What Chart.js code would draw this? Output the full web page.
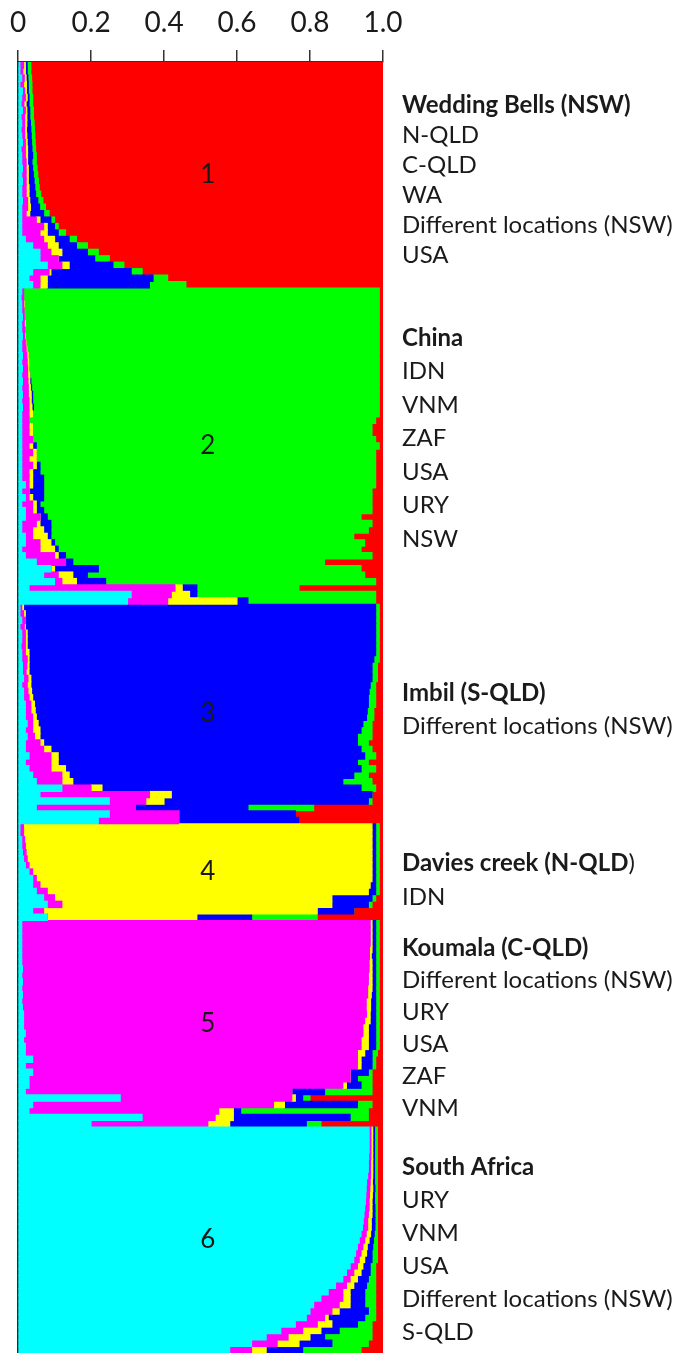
<!DOCTYPE html>
<html>
<head>
<meta charset="utf-8">
<script src="https://cdn.jsdelivr.net/npm/chart.js@4.4.1/dist/chart.umd.min.js"></script>
<style>
    body { margin: 0; background: #fff; }
    #wrap { width: 678px; height: 1353px; }
</style>
</head>
<body>
<div id="wrap"><canvas id="estrutura" width="678" height="1353"></canvas></div>
<script>
// membership per individual, columns: cyan, magenta, yellow, blue, green, red
const pop1 = [
    [0.005, 0.01, 0.005, 0.005, 0.01, 0.965],
    [0.005, 0.008, 0.007, 0.005, 0.01, 0.965],
    [0.01, 0.007, 0.005, 0.005, 0.01, 0.963],
    [0.005, 0.01, 0.008, 0.005, 0.01, 0.962],
    [0.012, 0.006, 0.005, 0.005, 0.01, 0.962],
    [0.01, 0.01, 0.005, 0.005, 0.01, 0.96],
    [0.008, 0.008, 0.006, 0.008, 0.01, 0.96],
    [0.012, 0.008, 0.004, 0.008, 0.01, 0.958],
    [0.008, 0.01, 0.006, 0.008, 0.01, 0.958],
    [0.01, 0.008, 0.006, 0.01, 0.01, 0.956],
    [0.008, 0.01, 0.005, 0.012, 0.01, 0.955],
    [0.01, 0.008, 0.006, 0.012, 0.01, 0.954],
    [0.012, 0.008, 0.005, 0.012, 0.01, 0.953],
    [0.008, 0.012, 0.006, 0.012, 0.01, 0.952],
    [0.01, 0.01, 0.006, 0.014, 0.01, 0.95],
    [0.01, 0.012, 0.004, 0.012, 0.012, 0.95],
    [0.012, 0.01, 0.006, 0.012, 0.012, 0.948],
    [0.01, 0.012, 0.006, 0.014, 0.012, 0.946],
    [0.012, 0.01, 0.006, 0.016, 0.012, 0.944],
    [0.01, 0.012, 0.008, 0.016, 0.012, 0.942],
    [0.01, 0.012, 0.008, 0.018, 0.014, 0.938],
    [0.012, 0.014, 0.006, 0.022, 0.014, 0.932],
    [0.01, 0.016, 0.008, 0.025, 0.016, 0.925],
    [0.01, 0.012, 0.01, 0.038, 0.015, 0.915],
    [0.01, 0.04, 0.01, 0.03, 0.01, 0.9],
    [0.01, 0.06, 0.01, 0.02, 0.01, 0.89],
    [0.01, 0.05, 0.02, 0.03, 0.02, 0.87],
    [0.02, 0.05, 0.03, 0.04, 0.02, 0.84],
    [0.04, 0.04, 0.03, 0.05, 0.03, 0.81],
    [0.06, 0.03, 0.03, 0.07, 0.03, 0.78],
    [0.06, 0.05, 0, 0.1, 0.04, 0.75],
    [0.08, 0.04, 0.02, 0.12, 0.03, 0.71],
    [0.04, 0.045, 0.005, 0.22, 0.03, 0.66],
    [0.03, 0.03, 0.02, 0.29, 0.04, 0.59],
    [0.04, 0.02, 0.02, 0.28, 0.1, 0.54]
];
const pop2 = [
    [0.01, 0.005, 0, 0, 0.975, 0.01],
    [0.008, 0.007, 0, 0, 0.975, 0.01],
    [0.01, 0.005, 0.002, 0, 0.973, 0.01],
    [0.01, 0.006, 0, 0, 0.974, 0.01],
    [0.012, 0.005, 0, 0, 0.973, 0.01],
    [0.01, 0.007, 0.003, 0, 0.97, 0.01],
    [0.01, 0.008, 0, 0, 0.972, 0.01],
    [0.012, 0.006, 0.002, 0, 0.97, 0.01],
    [0.01, 0.01, 0.002, 0, 0.968, 0.01],
    [0.01, 0.012, 0.003, 0, 0.965, 0.01],
    [0.012, 0.012, 0.004, 0, 0.962, 0.01],
    [0.01, 0.015, 0.005, 0, 0.96, 0.01],
    [0.012, 0.014, 0.004, 0, 0.96, 0.01],
    [0.01, 0.016, 0.006, 0, 0.958, 0.01],
    [0.012, 0.015, 0.005, 0.003, 0.955, 0.01],
    [0.01, 0.018, 0.006, 0.003, 0.953, 0.01],
    [0.012, 0.016, 0.008, 0.004, 0.95, 0.01],
    [0.01, 0.02, 0.006, 0.004, 0.95, 0.01],
    [0.012, 0.018, 0.008, 0.004, 0.948, 0.01],
    [0.01, 0.02, 0.01, 0, 0.95, 0.01],
    [0.01, 0.02, 0, 0, 0.95, 0.02],
    [0.01, 0.02, 0.01, 0, 0.93, 0.03],
    [0.01, 0.02, 0.01, 0, 0.93, 0.03],
    [0.01, 0.03, 0, 0, 0.94, 0.02],
    [0.01, 0.02, 0.01, 0.01, 0.94, 0.01],
    [0.01, 0.03, 0.01, 0, 0.93, 0.02],
    [0.01, 0.02, 0.02, 0, 0.93, 0.02],
    [0.01, 0.03, 0.01, 0.01, 0.92, 0.02],
    [0.01, 0.02, 0.01, 0.02, 0.92, 0.02],
    [0.01, 0.02, 0.01, 0.03, 0.91, 0.02],
    [0.02, 0.01, 0.01, 0.03, 0.91, 0.02],
    [0.01, 0.02, 0, 0.04, 0.9, 0.03],
    [0.02, 0.01, 0.01, 0.03, 0.9, 0.03],
    [0.01, 0.03, 0.01, 0.01, 0.91, 0.03],
    [0.02, 0.02, 0.01, 0.02, 0.9, 0.03],
    [0.02, 0.04, 0, 0.02, 0.86, 0.06],
    [0.01, 0.04, 0.01, 0.03, 0.88, 0.03],
    [0.01, 0.03, 0.03, 0.02, 0.87, 0.04],
    [0.02, 0.02, 0.04, 0.01, 0.83, 0.08],
    [0.02, 0.04, 0.03, 0.01, 0.85, 0.05],
    [0.01, 0.05, 0.04, 0.01, 0.83, 0.06],
    [0.02, 0.08, 0.01, 0.02, 0.84, 0.03],
    [0.05, 0.08, 0, 0.02, 0.69, 0.16],
    [0.09, 0, 0.01, 0.12, 0.72, 0.06],
    [0.07, 0.04, 0.04, 0.04, 0.76, 0.05],
    [0.1, 0.02, 0.04, 0.08, 0.74, 0.02],
    [0.03, 0.4, 0.02, 0.04, 0.28, 0.23],
    [0.31, 0.11, 0.05, 0.02, 0.49, 0.02],
    [0.3, 0.11, 0.19, 0.03, 0.35, 0.02]
];
const pop3 = [
    [0.005, 0.005, 0.005, 0.965, 0.01, 0.01],
    [0.005, 0.01, 0.005, 0.96, 0.01, 0.01],
    [0.01, 0.01, 0, 0.96, 0.01, 0.01],
    [0.005, 0.012, 0.003, 0.96, 0.01, 0.01],
    [0.01, 0.01, 0.005, 0.955, 0.01, 0.01],
    [0.01, 0.01, 0.005, 0.955, 0.01, 0.01],
    [0.008, 0.012, 0.005, 0.955, 0.01, 0.01],
    [0.01, 0.01, 0.01, 0.95, 0.01, 0.01],
    [0.01, 0.015, 0.005, 0.945, 0.015, 0.01],
    [0.012, 0.012, 0.006, 0.94, 0.015, 0.015],
    [0.012, 0.01, 0.008, 0.94, 0.015, 0.015],
    [0.015, 0.012, 0.008, 0.935, 0.015, 0.015],
    [0.01, 0.015, 0.01, 0.93, 0.015, 0.02],
    [0.015, 0.012, 0.01, 0.925, 0.018, 0.02],
    [0.015, 0.015, 0.01, 0.92, 0.02, 0.02],
    [0.02, 0.015, 0.01, 0.915, 0.02, 0.02],
    [0.02, 0.015, 0.012, 0.91, 0.018, 0.025],
    [0.02, 0.02, 0.01, 0.905, 0.02, 0.025],
    [0.025, 0.015, 0.015, 0.89, 0.025, 0.03],
    [0.02, 0.02, 0.02, 0.88, 0.03, 0.03],
    [0.025, 0.02, 0.015, 0.87, 0.04, 0.03],
    [0.02, 0.04, 0.01, 0.86, 0.03, 0.04],
    [0.02, 0.05, 0.02, 0.85, 0.03, 0.03],
    [0.03, 0.06, 0.02, 0.84, 0.03, 0.02],
    [0.02, 0.07, 0.02, 0.82, 0.03, 0.04],
    [0.03, 0.06, 0.04, 0.81, 0.04, 0.02],
    [0.04, 0.08, 0.02, 0.78, 0.04, 0.04],
    [0.05, 0.07, 0.03, 0.74, 0.08, 0.03],
    [0.12, 0.08, 0.03, 0.71, 0.04, 0.02],
    [0.06, 0.3, 0.06, 0.55, 0, 0.03],
    [0.25, 0.1, 0.05, 0.56, 0.01, 0.03],
    [0.05, 0.27, 0, 0.31, 0.18, 0.19],
    [0.25, 0.19, 0, 0.32, 0, 0.24],
    [0.22, 0.22, 0, 0.33, 0, 0.23]
];
const pop4 = [
    [0.005, 0.01, 0.955, 0.01, 0.01, 0.01],
    [0.005, 0.01, 0.955, 0.01, 0.01, 0.01],
    [0.01, 0.008, 0.952, 0.01, 0.01, 0.01],
    [0.01, 0.01, 0.95, 0.01, 0.01, 0.01],
    [0.012, 0.01, 0.948, 0.01, 0.01, 0.01],
    [0.015, 0.01, 0.945, 0.01, 0.01, 0.01],
    [0.02, 0.01, 0.94, 0.01, 0.01, 0.01],
    [0.03, 0.01, 0.93, 0.01, 0.01, 0.01],
    [0.04, 0.01, 0.92, 0.01, 0.01, 0.01],
    [0.04, 0.02, 0.905, 0.015, 0.01, 0.01],
    [0.05, 0.03, 0.88, 0.02, 0.01, 0.01],
    [0.07, 0.03, 0.76, 0.11, 0.01, 0.02],
    [0.08, 0.04, 0.74, 0.1, 0.01, 0.03],
    [0.04, 0.03, 0.75, 0.1, 0, 0.08],
    [0.08, 0, 0.41, 0.15, 0.18, 0.18]
];
const pop5 = [
    [0.01, 0.955, 0.005, 0.01, 0.01, 0.01],
    [0.01, 0.955, 0.005, 0.01, 0.01, 0.01],
    [0.01, 0.955, 0.005, 0.01, 0.01, 0.01],
    [0.01, 0.955, 0.005, 0.01, 0.01, 0.01],
    [0.01, 0.953, 0.007, 0.01, 0.01, 0.01],
    [0.01, 0.953, 0.005, 0.012, 0.01, 0.01],
    [0.01, 0.952, 0.008, 0.01, 0.01, 0.01],
    [0.012, 0.95, 0.008, 0.01, 0.01, 0.01],
    [0.01, 0.95, 0.01, 0.01, 0.01, 0.01],
    [0.012, 0.948, 0.01, 0.01, 0.01, 0.01],
    [0.01, 0.948, 0.012, 0.01, 0.01, 0.01],
    [0.012, 0.946, 0.01, 0.012, 0.01, 0.01],
    [0.01, 0.944, 0.012, 0.014, 0.01, 0.01],
    [0.012, 0.942, 0.012, 0.014, 0.01, 0.01],
    [0.015, 0.94, 0.01, 0.015, 0.01, 0.01],
    [0.015, 0.935, 0.015, 0.015, 0.01, 0.01],
    [0.015, 0.93, 0.015, 0.02, 0.01, 0.01],
    [0.02, 0.925, 0.015, 0.02, 0.01, 0.01],
    [0.015, 0.925, 0.02, 0.02, 0.01, 0.01],
    [0.02, 0.92, 0.02, 0.02, 0.01, 0.01],
    [0.02, 0.91, 0.02, 0.02, 0.015, 0.015],
    [0.04, 0.89, 0.01, 0.03, 0.01, 0.02],
    [0.02, 0.91, 0.01, 0.03, 0.01, 0.02],
    [0.04, 0.87, 0, 0.05, 0.01, 0.03],
    [0.03, 0.88, 0, 0.02, 0.04, 0.03],
    [0.03, 0.86, 0.01, 0.04, 0.03, 0.03],
    [0.02, 0.73, 0, 0.09, 0.13, 0.03],
    [0.28, 0.47, 0.01, 0.02, 0.02, 0.2],
    [0.04, 0.66, 0.03, 0.2, 0.04, 0.03],
    [0.03, 0.52, 0.04, 0.02, 0.35, 0.04],
    [0.34, 0.2, 0.05, 0.32, 0.05, 0.04],
    [0.2, 0.32, 0.06, 0.21, 0.04, 0.17]
];
const pop6 = [
    [0.962, 0.005, 0.005, 0.005, 0.008, 0.015],
    [0.962, 0.005, 0.005, 0.005, 0.008, 0.015],
    [0.962, 0.005, 0.005, 0.005, 0.008, 0.015],
    [0.962, 0.005, 0.005, 0.005, 0.008, 0.015],
    [0.961, 0.006, 0.005, 0.005, 0.008, 0.015],
    [0.96, 0.006, 0.006, 0.005, 0.008, 0.015],
    [0.96, 0.006, 0.006, 0.005, 0.008, 0.015],
    [0.958, 0.008, 0.006, 0.005, 0.008, 0.015],
    [0.955, 0.01, 0.006, 0.006, 0.008, 0.015],
    [0.954, 0.01, 0.008, 0.006, 0.007, 0.015],
    [0.953, 0.01, 0.008, 0.006, 0.008, 0.015],
    [0.952, 0.01, 0.008, 0.007, 0.008, 0.015],
    [0.95, 0.012, 0.008, 0.008, 0.007, 0.015],
    [0.948, 0.012, 0.01, 0.008, 0.007, 0.015],
    [0.946, 0.012, 0.01, 0.01, 0.007, 0.015],
    [0.944, 0.014, 0.01, 0.01, 0.007, 0.015],
    [0.94, 0.014, 0.012, 0.01, 0.009, 0.015],
    [0.935, 0.015, 0.012, 0.012, 0.011, 0.015],
    [0.93, 0.015, 0.012, 0.015, 0.013, 0.015],
    [0.925, 0.015, 0.015, 0.015, 0.015, 0.015],
    [0.92, 0.015, 0.015, 0.02, 0.015, 0.015],
    [0.91, 0.02, 0.015, 0.02, 0.015, 0.02],
    [0.9, 0.02, 0.02, 0.025, 0.015, 0.02],
    [0.89, 0.02, 0.02, 0.03, 0.02, 0.02],
    [0.87, 0.03, 0.02, 0.035, 0.025, 0.02],
    [0.85, 0.04, 0.02, 0.04, 0.03, 0.02],
    [0.83, 0.06, 0.02, 0.04, 0.03, 0.02],
    [0.81, 0.07, 0.03, 0.04, 0.03, 0.02],
    [0.8, 0.06, 0.02, 0.08, 0.02, 0.02],
    [0.79, 0.05, 0.01, 0.1, 0.03, 0.02],
    [0.76, 0.06, 0.04, 0.07, 0.04, 0.03],
    [0.72, 0.06, 0.05, 0.05, 0.09, 0.03],
    [0.68, 0.06, 0.06, 0.04, 0.13, 0.03],
    [0.64, 0.07, 0.06, 0.09, 0.1, 0.04],
    [0.58, 0.06, 0.04, 0.1, 0.16, 0.06]
];

const clusterNames = ["1", "2", "3", "4", "5", "6"];
const tickLabels = ["0", "0.2", "0.4", "0.6", "0.8", "1.0"];
const groupHeads = ["Wedding Bells (NSW)", "China", "Imbil (S-QLD)", "Davies creek (N-QLD)", "Koumala (C-QLD)", "South Africa"];
const groupMembers = [
    ["N-QLD", "C-QLD", "WA", "Different locations (NSW)", "USA"],
    ["IDN", "VNM", "ZAF", "USA", "URY", "NSW"],
    ["Different locations (NSW)"],
    ["IDN"],
    ["Different locations (NSW)", "URY", "USA", "ZAF", "VNM"],
    ["URY", "VNM", "USA", "Different locations (NSW)", "S-QLD"]
];

const pops = [pop1, pop2, pop3, pop4, pop5, pop6];
const barColors = ["#00ffff", "#ff00ff", "#ffff00", "#0000ff", "#00ff00", "#ff0000"];

// where the text block of each group starts (px) and its line step
const labelTop = [105, 338, 693, 863, 948, 1167];
const labelStep = [30, 33.5, 33, 34, 32, 33];

const individuos = [];
pops.forEach(function (p, k) {
    p.forEach(function (row, i) { individuos.push("K" + (k + 1) + "-" + (i + 1)); });
});
const linhas = [].concat(...pops);

const datasets = barColors.map(function (cor, c) {
    return {
        data: linhas.map(function (row) { return row[c]; }),
        backgroundColor: cor,
        borderWidth: 0,
        inflateAmount: 0.5,
        barPercentage: 1,
        categoryPercentage: 1
    };
});

const textos = {
    id: "textos",
    afterDraw(chart) {
        const ctx = chart.ctx;
        const xs = chart.scales.x, ys = chart.scales.y;
        ctx.save();
        let start = 0;
        pops.forEach(function (p, k) {
            const end = start + p.length - 1;
            const yMid = (ys.getPixelForValue(start) + ys.getPixelForValue(end)) / 2;
            ctx.font = "26px Lato";
            ctx.fillStyle = "#1a1a1a";
            ctx.textAlign = "center";
            ctx.textBaseline = "middle";
            ctx.fillText(clusterNames[k], xs.getPixelForValue(0.52), yMid);

            ctx.textAlign = "left";
            let y = labelTop[k];
            const head = groupHeads[k];
            ctx.font = "bold 24px Lato";
            if (k === 3) {
                // closing bracket is not bold in the original
                const part = head.slice(0, -1);
                ctx.fillText(part, 402, y);
                const w = ctx.measureText(part).width;
                ctx.font = "24px Lato";
                ctx.fillText(")", 402 + w, y);
            } else {
                ctx.fillText(head, 402, y);
            }
            ctx.font = "24px Lato";
            groupMembers[k].forEach(function (m) {
                y += labelStep[k];
                ctx.fillText(m, 402, y);
            });
            start = end + 1;
        });
        ctx.restore();
    }
};

new Chart("estrutura", {
    type: "bar",
    data: {
        labels: individuos,
        datasets: datasets
    },
    options: {
        indexAxis: "y",
        responsive: false,
        animation: false,
        layout: {
            padding: { left: 10, right: 295, top: 8, bottom: 0 }
        },
        plugins: {
            legend: { display: false },
            tooltip: { enabled: false }
        },
        scales: {
            x: {
                type: "linear",
                position: "top",
                min: 0,
                max: 1,
                stacked: true,
                afterFit: function (s) { s.height = 54; },
                ticks: {
                    stepSize: 0.2,
                    color: "#1a1a1a",
                    padding: 10,
                    font: { family: "Lato", size: 28 },
                    callback: function (v, i) { return tickLabels[i]; }
                },
                grid: {
                    display: true,
                    drawOnChartArea: false,
                    drawTicks: true,
                    tickLength: 12,
                    color: "#333",
                    lineWidth: 1.5
                },
                border: { display: true, color: "#333", width: 1.5 }
            },
            y: {
                stacked: true,
                z: 1,
                ticks: { display: false },
                grid: { display: false },
                border: { display: true, color: "#2a2a2a", width: 2 }
            }
        }
    },
    plugins: [textos]
});
</script>
</body>
</html>
